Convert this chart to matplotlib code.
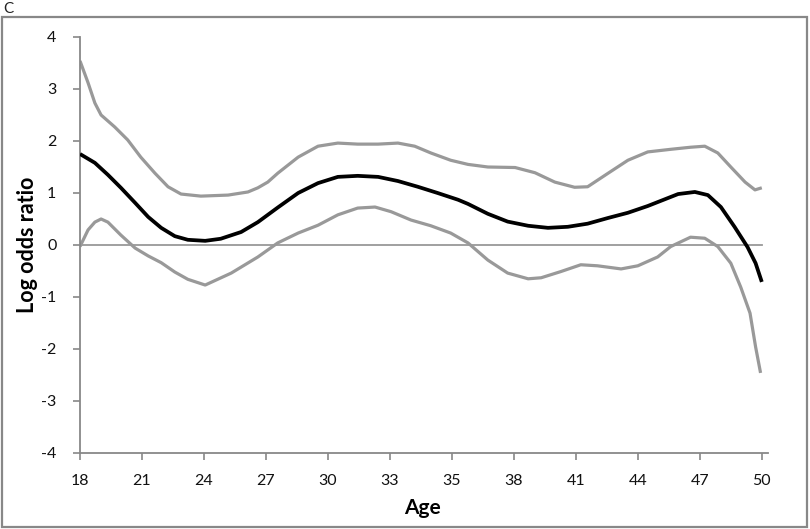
import matplotlib
matplotlib.use("Agg")
import matplotlib.pyplot as plt
from matplotlib.patches import Rectangle

# Tick labels (category axis, one tick per label position)
age_labels = ["18", "21", "24", "27", "30", "33", "35", "38", "41", "44", "47", "50"]

# Positions are in tick-index units (0 = "18", 11 = "50")
x_upper = [0.0, 0.13, 0.24, 0.34, 0.56, 0.77, 0.98, 1.21, 1.42, 1.63, 1.95, 2.39, 2.71, 2.87,
           3.03, 3.19, 3.52, 3.84, 4.16, 4.48, 4.81, 5.13, 5.40, 5.66, 5.98, 6.26, 6.58,
           7.02, 7.34, 7.66, 7.98, 8.19, 8.52, 8.84, 9.16, 9.53, 9.85, 10.08, 10.29, 10.5,
           10.73, 10.89, 11.0]
upper = [3.54, 3.12, 2.73, 2.50, 2.27, 2.02, 1.69, 1.38, 1.12, 0.98, 0.94, 0.96, 1.02, 1.10,
         1.21, 1.38, 1.69, 1.90, 1.96, 1.94, 1.94, 1.96, 1.90, 1.77, 1.63, 1.55, 1.50,
         1.49, 1.39, 1.21, 1.11, 1.12, 1.38, 1.63, 1.79, 1.84, 1.88, 1.90, 1.77, 1.50,
         1.21, 1.06, 1.10]

x_mean = [0.0, 0.24, 0.45, 0.66, 0.89, 1.10, 1.31, 1.53, 1.74, 2.02, 2.27, 2.60, 2.87,
          3.19, 3.52, 3.84, 4.16, 4.48, 4.81, 5.13, 5.45, 5.77, 6.10, 6.26, 6.58, 6.90,
          7.23, 7.55, 7.87, 8.19, 8.52, 8.84, 9.16, 9.65, 9.92, 10.13, 10.34, 10.56,
          10.77, 10.90, 11.0]
mean = [1.75, 1.58, 1.35, 1.10, 0.81, 0.54, 0.33, 0.17, 0.10, 0.08, 0.12, 0.25, 0.44,
        0.72, 1.00, 1.19, 1.31, 1.33, 1.31, 1.23, 1.12, 1.00, 0.87, 0.79, 0.60, 0.45,
        0.37, 0.33, 0.35, 0.41, 0.52, 0.62, 0.75, 0.98, 1.02, 0.96, 0.73, 0.35,
        -0.04, -0.35, -0.71]

x_lower = [0.0, 0.13, 0.24, 0.34, 0.45, 0.66, 0.89, 1.10, 1.31, 1.53, 1.74, 2.02, 2.44,
           2.87, 3.19, 3.52, 3.84, 4.16, 4.48, 4.76, 5.02, 5.34, 5.66, 5.98, 6.26, 6.58,
           6.90, 7.23, 7.44, 7.76, 8.08, 8.35, 8.73, 9.00, 9.32, 9.53, 9.85, 10.08, 10.29,
           10.50, 10.66, 10.81, 10.90, 10.98]
lower = [-0.03, 0.29, 0.44, 0.50, 0.44, 0.19, -0.06, -0.21, -0.34, -0.52, -0.66, -0.77, -0.54,
         -0.23, 0.04, 0.23, 0.38, 0.58, 0.71, 0.73, 0.64, 0.48, 0.37, 0.23, 0.04, -0.29,
         -0.54, -0.65, -0.63, -0.51, -0.38, -0.40, -0.46, -0.40, -0.23, -0.03, 0.15, 0.13, -0.03,
         -0.35, -0.81, -1.31, -1.96, -2.46]

y_ticks = [-4, -3, -2, -1, 0, 1, 2, 3, 4]

FONT = "Lato"
W, H = 810, 529
fig = plt.figure(figsize=(W / 100, H / 100), dpi=100)
fig.patch.set_facecolor("white")

# outer chart border
fig.patches.append(Rectangle((2 / W, 2 / H), 805 / W, (527 - 17) / H,
                             transform=fig.transFigure, fill=False,
                             edgecolor="#888888", linewidth=1.6))
fig.text(3 / W, 1 - 2 / H, "C", fontsize=11, family=FONT, color="#222222",
         va="top", ha="left")

ax = fig.add_axes([80 / W, 1 - 453 / H, (768 - 80) / W, (453 - 37) / H])
gray = "#999999"
ax.plot([0, 11], [0, 0], color=gray, linewidth=1.3, zorder=1)
ax.plot(x_upper, upper, color=gray, linewidth=2.3, solid_capstyle="butt", zorder=2)
ax.plot(x_lower, lower, color=gray, linewidth=2.3, solid_capstyle="butt", zorder=2)
ax.plot(x_mean, mean, color="black", linewidth=2.7, solid_capstyle="butt", zorder=3)

ax.set_xlim(0, 11.1)
ax.set_ylim(-4, 4)
ax.set_xticks(range(len(age_labels)))
ax.set_xticklabels(age_labels)
ax.set_yticks(y_ticks)
ax.set_yticklabels([str(v) for v in y_ticks])

for s in ["top", "right"]:
    ax.spines[s].set_visible(False)
for s in ["left", "bottom"]:
    ax.spines[s].set_color("#888888")
    ax.spines[s].set_linewidth(1.3)
ax.tick_params(axis="x", direction="out", length=5, width=1.2, color="#888888",
               labelsize=11.5, pad=10)
ax.tick_params(axis="y", direction="out", length=5, width=1.2, color="#888888",
               labelsize=11.5, pad=12)
for lab in ax.get_xticklabels() + ax.get_yticklabels():
    lab.set_family(FONT)
    lab.set_color("#111111")

ax.set_xlabel("Age", fontsize=15, fontweight="bold", family=FONT)
ax.set_ylabel("Log odds ratio", fontsize=15.5, fontweight="bold", family=FONT)
ax.xaxis.set_label_coords(0.4985, -(498 - 453) / 416)
ax.yaxis.set_label_coords(-(80 - 38) / 688, 0.5)

fig.savefig("out.png", dpi=100)
